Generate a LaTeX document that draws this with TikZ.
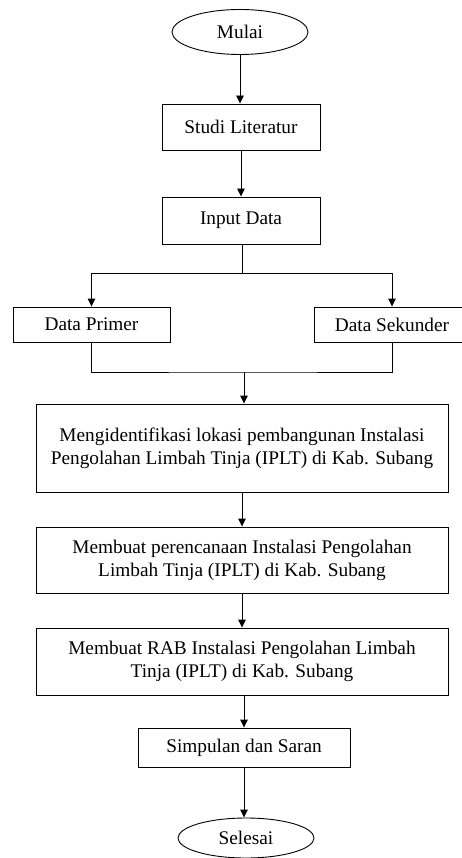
\documentclass[tikz,border=0pt]{standalone}
\usepackage{fontspec}
\setmainfont{Liberation Serif}
\usetikzlibrary{arrows.meta,shapes.geometric}
\begin{document}
\begin{tikzpicture}[x=1pt,y=-1pt,
  every node/.style={font=\fontsize{19.3}{23}\selectfont, align=center, inner sep=0pt},
  box/.style={draw, line width=0.9pt, rectangle},
  term/.style={draw, line width=0.9pt, ellipse},
  conn/.style={line width=0.9pt},
  arr/.style={conn, -{Triangle[length=8pt,width=7.5pt]}}]
\useasboundingbox (0,0) rectangle (461,858);
\node[term, minimum width=136pt, minimum height=45pt] (mulai) at (240,32) {Mulai};
\node[box, minimum width=158pt, minimum height=46pt] (studi) at (241,127) {Studi Literatur};
\node[box, minimum width=158pt, minimum height=47pt] (input) at (241,220.5) {Input Data};
\node[box, minimum width=157pt, minimum height=35pt] (primer) at (91.5,324.5) {Data Primer};
\node[box, minimum width=156pt, minimum height=35pt] (sekunder) at (392,324.5) {Data Sekunder};
\node[box, minimum width=412pt, minimum height=88pt] (ident) at (242,448) {Mengidentifikasi lokasi pembangunan Instalasi\\Pengolahan Limbah Tinja (IPLT) di Kab. Subang};
\node[box, minimum width=412pt, minimum height=66pt] (renc) at (242,560) {Membuat perencanaan Instalasi Pengolahan\\Limbah Tinja (IPLT) di Kab. Subang};
\node[box, minimum width=412pt, minimum height=67pt] (rab) at (242,661.5) {Membuat RAB Instalasi Pengolahan Limbah\\Tinja (IPLT) di Kab. Subang};
\node[box, minimum width=212pt, minimum height=39pt] (simp) at (244,747.5) {Simpulan dan Saran};
\node[term, minimum width=136pt, minimum height=40pt] (selesai) at (246,838) {Selesai};
\coordinate (split) at (242,273);
\coordinate (join) at (244,372);
\draw[arr] (mulai.south) -- (mulai.south |- studi.north);
\draw[arr] (studi.south) -- (studi.south |- input.north);
\draw[conn] (input.south -| split) -- (split);
\draw[arr] (split) -| (primer.north);
\draw[arr] (split) -| (sekunder.north);
\draw[conn] (primer.south) |- (join) -| (sekunder.south);
\draw[arr] (join) -- (join |- ident.north);
\draw[arr] (ident.south) -- (renc.north);
\draw[arr] (renc.south) -- (rab.north);
\draw[arr] (rab.south -| simp.south) -- (simp.north);
\draw[arr] (simp.south) -- (simp.south |- selesai.north);
\end{tikzpicture}
\end{document}
